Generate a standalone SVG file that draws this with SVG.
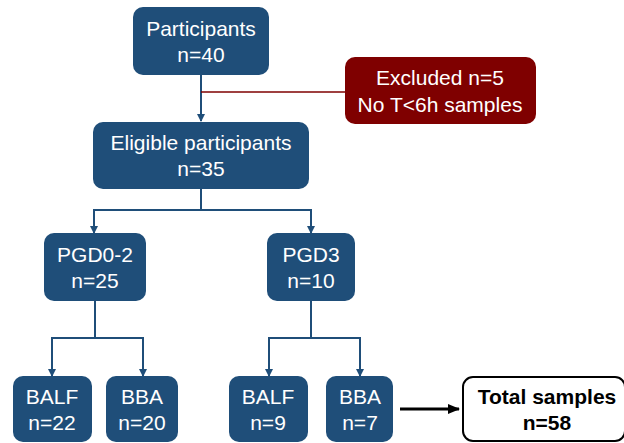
<svg xmlns="http://www.w3.org/2000/svg" width="624" height="443" viewBox="0 0 624 443">
<style>
.box{fill:#1F4E79;}
.ex{fill:#7F0000;}
.t{font-family:"Liberation Sans",Arial,sans-serif;font-size:21px;fill:#ffffff;text-anchor:middle;}
.tb{font-family:"Liberation Sans",Arial,sans-serif;font-size:21px;font-weight:bold;fill:#000;text-anchor:middle;}
.c{fill:none;stroke:#1F4E79;stroke-width:2;}
</style>
<defs>
<marker id="ab" markerWidth="8" markerHeight="8" refX="7" refY="4" orient="auto" markerUnits="userSpaceOnUse">
<path d="M0,0 L8,4 L0,8 z" fill="#1F4E79"/>
</marker>
<marker id="ak" markerWidth="12" markerHeight="12" refX="11" refY="6" orient="auto" markerUnits="userSpaceOnUse">
<path d="M0,1 L12,6 L0,11 z" fill="#000"/>
</marker>
</defs>
<g id="connectors">
<path class="c" d="M201,75 V121" marker-end="url(#ab)"/>
<path d="M201,92 H345" fill="none" stroke="#7F0000" stroke-width="1.5"/>
<path class="c" d="M201,189 V210 H94 V233" marker-end="url(#ab)"/>
<path class="c" d="M201,210 H311 V233" marker-end="url(#ab)"/>
<path class="c" d="M95,301 V338 H52 V376" marker-end="url(#ab)"/>
<path class="c" d="M95,338 H143 V376" marker-end="url(#ab)"/>
<path class="c" d="M311,301 V338 H269 V376" marker-end="url(#ab)"/>
<path class="c" d="M311,338 H360 V376" marker-end="url(#ab)"/>
<path d="M400,409 H459" fill="none" stroke="#000" stroke-width="3" marker-end="url(#ak)"/>
</g>
<g id="participants">
<rect class="box" x="133" y="7" width="136" height="68" rx="10"/>
<text class="t" x="201" y="36">Participants</text>
<text class="t" x="201" y="62">n=40</text>
</g>
<g id="excluded">
<rect class="ex" x="345" y="57" width="191" height="67" rx="10"/>
<text class="t" x="440" y="85">Excluded n=5</text>
<text class="t" x="440" y="112">No T&lt;6h samples</text>
</g>
<g id="eligible">
<rect class="box" x="93" y="122" width="216" height="67" rx="10"/>
<text class="t" x="201" y="150">Eligible participants</text>
<text class="t" x="201" y="176">n=35</text>
</g>
<g id="pgd02">
<rect class="box" x="44" y="233" width="102" height="68" rx="10"/>
<text class="t" x="95" y="262">PGD0-2</text>
<text class="t" x="95" y="288">n=25</text>
</g>
<g id="pgd3">
<rect class="box" x="267" y="233" width="88" height="68" rx="10"/>
<text class="t" x="311" y="262">PGD3</text>
<text class="t" x="311" y="288">n=10</text>
</g>
<g id="balf1">
<rect class="box" x="13" y="376" width="79" height="66" rx="10"/>
<text class="t" x="52" y="404">BALF</text>
<text class="t" x="52" y="430">n=22</text>
</g>
<g id="bba1">
<rect class="box" x="106" y="376" width="72" height="66" rx="10"/>
<text class="t" x="142" y="404">BBA</text>
<text class="t" x="142" y="430">n=20</text>
</g>
<g id="balf2">
<rect class="box" x="229" y="376" width="79" height="66" rx="10"/>
<text class="t" x="268" y="404">BALF</text>
<text class="t" x="268" y="430">n=9</text>
</g>
<g id="bba2">
<rect class="box" x="326" y="376" width="67" height="66" rx="10"/>
<text class="t" x="360" y="404">BBA</text>
<text class="t" x="360" y="430">n=7</text>
</g>
<g id="total">
<rect x="463" y="377" width="162" height="64" rx="10" fill="#fff" stroke="#000" stroke-width="2"/>
<text class="tb" x="547" y="404">Total samples</text>
<text class="tb" x="547" y="430">n=58</text>
</g>
</svg>
